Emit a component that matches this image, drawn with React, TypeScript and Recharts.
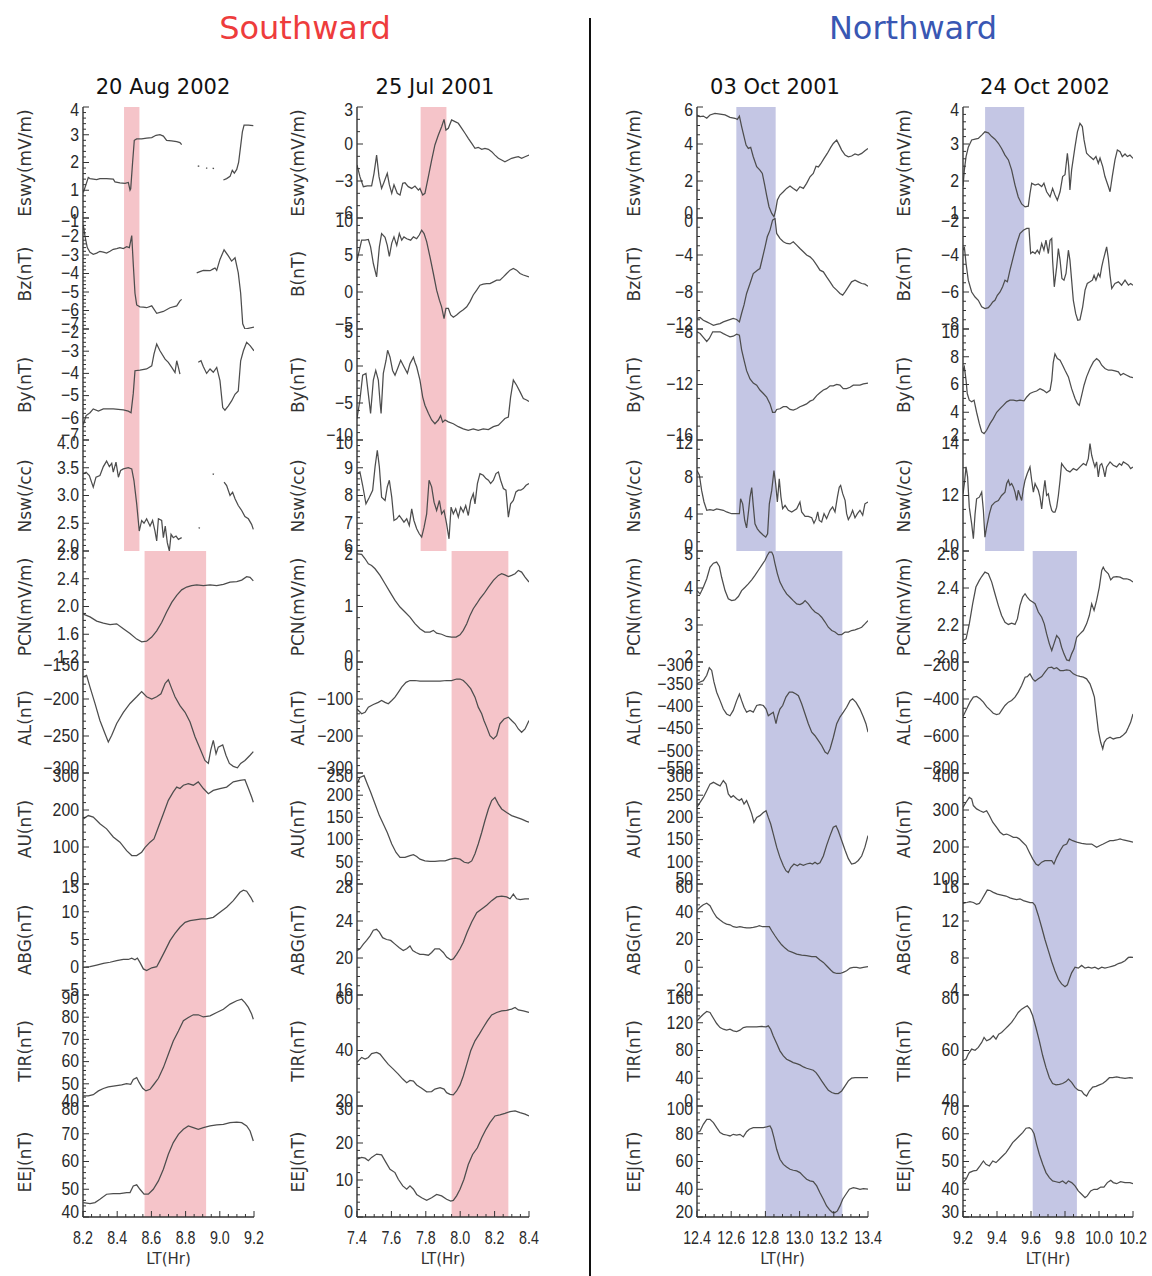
import React from "react";
import { LineChart, Line, XAxis, YAxis, ReferenceArea } from "recharts";

type Pt = [number, number | null];

// ---- 20 Aug 2002 ----
const aug02Esw: Pt[] = [
  [8.202, 0.92], [8.231, 1.46], [8.241, 1.42], [8.28, 1.38], [8.299, 1.42], [8.338, 1.42], [8.377, 1.4], [8.387, 1.3],
  [8.416, 1.27], [8.446, 1.25], [8.465, 1.28], [8.475, 1.0], [8.479, 1.05], [8.49, 2.0], [8.5, 2.8], [8.514, 2.85],
  [8.543, 2.85], [8.572, 2.88], [8.602, 2.9], [8.627, 2.98], [8.65, 3.0], [8.67, 2.95], [8.689, 2.8], [8.718, 2.78],
  [8.748, 2.75], [8.767, 2.72], [8.777, 2.64], [8.82, null], [8.871, 1.88], [8.88, 1.86], [8.9, null], [8.919, 1.8],
  [8.927, 1.8], [8.94, null], [8.958, 1.8], [8.966, 1.78], [8.99, null], [9.021, 1.37], [9.04, 1.42], [9.06, 1.5],
  [9.073, 1.72], [9.085, 1.62], [9.099, 1.75], [9.11, 2.0], [9.122, 2.6], [9.132, 3.1], [9.142, 3.35], [9.167, 3.35],
  [9.196, 3.33],
];
const aug02Bz: Pt[] = [
  [8.202, -1.4], [8.212, -2.0], [8.225, -2.6], [8.241, -2.85], [8.26, -2.96], [8.28, -2.9], [8.299, -2.8], [8.319, -2.85],
  [8.338, -2.9], [8.358, -2.8], [8.377, -2.69], [8.397, -2.65], [8.416, -2.6], [8.436, -2.65], [8.455, -2.55], [8.471, -2.6],
  [8.485, -1.95], [8.494, -3.5], [8.504, -5.07], [8.514, -5.7], [8.533, -5.8], [8.553, -5.82], [8.572, -5.85], [8.602, -5.75],
  [8.631, -6.15], [8.67, -6.05], [8.709, -5.85], [8.748, -5.75], [8.767, -5.48], [8.777, -5.4], [8.82, null], [8.865, -3.97],
  [8.884, -3.9], [8.904, -3.83], [8.943, -3.85], [8.962, -3.75], [8.972, -3.7], [8.982, -3.83], [9.001, -3.24], [9.025, -2.72],
  [9.05, -3.05], [9.069, -3.33], [9.089, -3.15], [9.108, -3.97], [9.122, -5.07], [9.134, -6.72], [9.147, -7.0], [9.2, -6.9],
];
const aug02By: Pt[] = [
  [8.202, -6.3], [8.218, -5.9], [8.241, -5.77], [8.26, -5.6], [8.29, -5.7], [8.319, -5.6], [8.377, -5.6], [8.436, -5.64],
  [8.465, -5.7], [8.481, -5.77], [8.494, -4.9], [8.504, -3.88], [8.533, -3.85], [8.572, -3.8], [8.602, -3.66], [8.615, -3.13],
  [8.631, -2.68], [8.65, -2.98], [8.68, -3.36], [8.699, -3.5], [8.719, -3.73], [8.738, -3.96], [8.748, -3.43], [8.758, -3.73],
  [8.767, -4.03], [8.82, null], [8.874, -3.5], [8.89, -3.43], [8.904, -3.7], [8.923, -4.0], [8.943, -3.8], [8.962, -3.95],
  [8.982, -3.73], [9.001, -4.33], [9.017, -5.54], [9.03, -5.66], [9.05, -5.46], [9.069, -5.24], [9.089, -4.94], [9.108, -4.79],
  [9.122, -3.43], [9.138, -2.98], [9.157, -2.6], [9.177, -2.75], [9.2, -2.98],
];
const aug02Nsw: Pt[] = [
  [8.202, 3.39], [8.218, 3.42], [8.237, 3.36], [8.26, 3.15], [8.276, 3.33], [8.299, 3.36], [8.319, 3.52], [8.338, 3.62],
  [8.354, 3.52], [8.368, 3.58], [8.377, 3.42], [8.393, 3.6], [8.407, 3.33], [8.42, 3.45], [8.436, 3.48], [8.465, 3.5],
  [8.485, 3.48], [8.498, 3.27], [8.514, 2.85], [8.529, 2.36], [8.543, 2.55], [8.557, 2.5], [8.572, 2.58], [8.592, 2.45],
  [8.607, 2.55], [8.621, 2.36], [8.631, 2.18], [8.641, 2.58], [8.66, 2.55], [8.67, 2.24], [8.681, 2.45], [8.693, 2.15],
  [8.705, 2.0], [8.715, 2.3], [8.728, 2.24], [8.744, 2.27], [8.758, 2.21], [8.777, 2.24], [8.82, null], [8.876, 2.42],
  [8.884, 2.41], [8.92, null], [8.958, 3.39], [8.966, 3.38], [8.99, null], [9.025, 3.24], [9.04, 3.18], [9.06, 3.0],
  [9.075, 3.06], [9.089, 2.94], [9.108, 2.82], [9.128, 2.73], [9.147, 2.62], [9.167, 2.58], [9.186, 2.48], [9.196, 2.39],
];
const aug02Pcn: Pt[] = [
  [8.202, 1.89], [8.241, 1.85], [8.28, 1.79], [8.319, 1.76], [8.358, 1.74], [8.397, 1.75], [8.436, 1.68], [8.475, 1.61],
  [8.514, 1.53], [8.543, 1.49], [8.572, 1.5], [8.602, 1.56], [8.631, 1.65], [8.66, 1.77], [8.689, 1.92], [8.719, 2.06],
  [8.748, 2.16], [8.777, 2.24], [8.806, 2.28], [8.835, 2.3], [8.865, 2.31], [8.904, 2.3], [8.943, 2.31], [8.982, 2.3],
  [9.021, 2.32], [9.06, 2.35], [9.099, 2.36], [9.128, 2.38], [9.157, 2.43], [9.177, 2.42], [9.196, 2.37],
];
const aug02Al: Pt[] = [
  [8.202, -170], [8.221, -168], [8.241, -184], [8.27, -206], [8.299, -229], [8.329, -247], [8.348, -258], [8.368, -249],
  [8.397, -233], [8.436, -218], [8.475, -206], [8.514, -197], [8.543, -190], [8.572, -197], [8.602, -200], [8.631, -197],
  [8.656, -193], [8.68, -179], [8.699, -174], [8.719, -186], [8.738, -197], [8.767, -209], [8.797, -218], [8.826, -231],
  [8.855, -251], [8.884, -267], [8.913, -283], [8.933, -287], [8.947, -269], [8.962, -256], [8.978, -274], [8.991, -265],
  [9.017, -262], [9.036, -276], [9.056, -287], [9.079, -291], [9.103, -293], [9.122, -287], [9.147, -283], [9.177, -276],
  [9.196, -271],
];
const aug02Au: Pt[] = [
  [8.202, 176], [8.231, 185], [8.26, 181], [8.299, 163], [8.338, 149], [8.377, 127], [8.416, 113], [8.455, 90],
  [8.485, 77], [8.514, 77], [8.543, 86], [8.563, 99], [8.592, 113], [8.615, 122], [8.641, 154], [8.67, 190],
  [8.699, 226], [8.728, 249], [8.748, 262], [8.767, 258], [8.787, 267], [8.816, 271], [8.845, 267], [8.874, 276],
  [8.904, 258], [8.933, 244], [8.962, 253], [9.001, 258], [9.04, 262], [9.079, 276], [9.118, 280], [9.147, 282],
  [9.167, 258], [9.186, 235], [9.196, 221],
];
const aug02Abg: Pt[] = [
  [8.202, 0.0], [8.241, 0.1], [8.28, 0.4], [8.319, 0.7], [8.358, 0.9], [8.397, 1.2], [8.436, 1.4], [8.465, 1.4],
  [8.485, 1.65], [8.504, 1.35], [8.518, 1.65], [8.533, 0.87], [8.553, -0.3], [8.572, -0.6], [8.602, -0.1], [8.631, 0.1],
  [8.65, 1.2], [8.68, 3.0], [8.709, 4.8], [8.738, 6.1], [8.767, 7.2], [8.797, 8.1], [8.826, 8.4], [8.865, 8.6],
  [8.894, 8.7], [8.923, 8.7], [8.962, 9.0], [9.001, 9.9], [9.04, 10.8], [9.079, 12.0], [9.118, 13.5], [9.138, 13.9],
  [9.157, 13.7], [9.181, 12.6], [9.196, 11.7],
];
const aug02Tir: Pt[] = [
  [8.202, 44.6], [8.231, 44.6], [8.26, 45.1], [8.29, 46.8], [8.319, 47.9], [8.348, 48.6], [8.387, 49.1], [8.426, 49.5],
  [8.455, 50.1], [8.479, 49.8], [8.494, 52.0], [8.514, 52.8], [8.529, 50.5], [8.549, 48.0], [8.568, 46.8], [8.592, 47.5],
  [8.615, 49.8], [8.641, 52.5], [8.67, 57.3], [8.699, 63.3], [8.728, 69.3], [8.758, 73.8], [8.787, 78.4], [8.816, 79.9],
  [8.845, 81.1], [8.874, 81.1], [8.904, 80.1], [8.943, 80.6], [8.982, 82.1], [9.021, 83.6], [9.06, 85.9], [9.099, 87.4],
  [9.128, 88.1], [9.147, 86.6], [9.167, 84.4], [9.186, 81.4], [9.196, 79.1],
];
const aug02Eej: Pt[] = [
  [8.202, 45.2], [8.241, 44.8], [8.27, 45.2], [8.299, 46.4], [8.338, 48.2], [8.377, 48.4], [8.416, 48.4], [8.455, 48.8],
  [8.475, 48.8], [8.494, 51.2], [8.514, 51.6], [8.533, 50.0], [8.557, 48.2], [8.582, 48.2], [8.611, 50.0], [8.641, 53.0],
  [8.67, 57.2], [8.699, 62.6], [8.728, 66.8], [8.758, 69.8], [8.787, 71.6], [8.816, 72.8], [8.845, 72.2], [8.874, 71.6],
  [8.904, 72.2], [8.943, 72.8], [8.982, 73.2], [9.021, 73.4], [9.06, 74.0], [9.099, 74.2], [9.128, 74.0], [9.157, 72.8],
  [9.177, 71.0], [9.196, 67.4],
];

// ---- 25 Jul 2001 ----
const jul01Esw: Pt[] = [
  [7.4, -1.7], [7.417, -2.65], [7.437, -3.46], [7.46, -3.4], [7.485, -3.4], [7.499, -2.38], [7.514, -0.9], [7.528, -2.65],
  [7.543, -3.6], [7.557, -3.1], [7.576, -2.38], [7.588, -3.3], [7.602, -4.0], [7.615, -3.3], [7.634, -4.0], [7.65, -4.14],
  [7.666, -3.19], [7.679, -3.14], [7.698, -3.46], [7.718, -3.6], [7.737, -3.41], [7.757, -3.74], [7.766, -3.6], [7.782, -4.14],
  [7.795, -4.0], [7.815, -2.65], [7.834, -1.3], [7.853, -0.08], [7.873, 0.73], [7.892, 1.4], [7.906, 2.0], [7.917, 1.13],
  [7.931, 1.27], [7.95, 1.95], [7.97, 1.81], [7.989, 1.68], [8.009, 1.27], [8.028, 0.87], [8.047, 0.46], [8.067, 0.05],
  [8.086, -0.35], [8.105, -0.27], [8.125, -0.43], [8.144, -0.35], [8.164, -0.43], [8.183, -0.62], [8.202, -0.9], [8.222, -1.16],
  [8.241, -1.3], [8.26, -1.44], [8.28, -1.3], [8.299, -1.16], [8.319, -1.08], [8.338, -1.03], [8.357, -1.16], [8.377, -1.03],
  [8.4, -0.9],
];
const jul01B: Pt[] = [
  [7.4, 4.3], [7.414, 5.66], [7.427, 7.0], [7.447, 7.0], [7.466, 7.1], [7.479, 6.1], [7.495, 3.85], [7.514, 2.05],
  [7.53, 6.1], [7.543, 7.9], [7.563, 7.4], [7.576, 6.3], [7.588, 4.8], [7.602, 6.6], [7.615, 7.45], [7.631, 6.3],
  [7.646, 7.9], [7.66, 7.0], [7.673, 7.45], [7.689, 7.2], [7.712, 7.0], [7.728, 7.45], [7.747, 7.2], [7.762, 7.7],
  [7.776, 8.35], [7.79, 7.9], [7.805, 6.8], [7.824, 4.77], [7.844, 2.5], [7.863, 0.25], [7.879, -1.1], [7.892, -2.0],
  [7.906, -3.6], [7.917, -2.2], [7.931, -2.2], [7.945, -3.1], [7.96, -3.4], [7.979, -3.1], [7.999, -2.7], [8.018, -2.4],
  [8.038, -2.0], [8.057, -1.3], [8.076, -0.4], [8.096, 0.25], [8.115, 0.92], [8.134, 1.05], [8.154, 1.14], [8.173, 1.14],
  [8.193, 1.37], [8.212, 1.6], [8.231, 1.6], [8.251, 2.05], [8.27, 2.5], [8.29, 2.95], [8.309, 3.17], [8.328, 2.95],
  [8.348, 2.5], [8.367, 2.3], [8.4, 2.05],
];
const jul01By: Pt[] = [
  [7.4, -7.1], [7.417, -4.6], [7.433, -1.25], [7.452, -1.0], [7.468, -4.2], [7.479, -6.4], [7.495, -1.9], [7.509, -0.6],
  [7.524, -1.9], [7.534, -4.9], [7.54, -6.4], [7.553, -1.0], [7.569, 0.78], [7.578, 2.13], [7.592, 1.2], [7.607, -0.6],
  [7.621, -1.25], [7.64, -0.1], [7.654, 0.78], [7.673, -0.1], [7.693, -1.0], [7.708, 0.3], [7.728, 1.2], [7.737, 0.5],
  [7.747, -0.1], [7.766, -1.9], [7.782, -4.2], [7.795, -5.3], [7.815, -6.4], [7.834, -7.3], [7.853, -7.8], [7.873, -7.3],
  [7.886, -6.7], [7.898, -7.6], [7.912, -7.3], [7.931, -7.55], [7.96, -7.8], [7.989, -8.2], [8.018, -8.5], [8.047, -8.7],
  [8.076, -8.5], [8.105, -8.7], [8.134, -8.5], [8.164, -8.6], [8.193, -8.2], [8.222, -8.0], [8.241, -7.55], [8.26, -7.1],
  [8.28, -6.9], [8.293, -4.2], [8.309, -1.9], [8.328, -2.6], [8.348, -3.5], [8.367, -4.4], [8.386, -4.6], [8.4, -4.8],
];
const jul01Nsw: Pt[] = [
  [7.4, 8.79], [7.417, 8.85], [7.433, 8.36], [7.452, 7.7], [7.472, 7.94], [7.491, 8.19], [7.505, 9.03], [7.518, 9.63],
  [7.53, 9.03], [7.543, 7.94], [7.563, 7.82], [7.576, 8.31], [7.588, 8.55], [7.602, 7.94], [7.615, 7.1], [7.631, 7.16],
  [7.646, 7.28], [7.66, 7.16], [7.673, 7.04], [7.689, 7.16], [7.704, 6.92], [7.718, 7.52], [7.731, 7.1], [7.747, 6.8],
  [7.762, 6.62], [7.776, 6.5], [7.79, 6.86], [7.805, 7.34], [7.819, 8.55], [7.834, 8.31], [7.848, 7.76], [7.863, 7.46],
  [7.879, 7.82], [7.892, 7.34], [7.906, 7.46], [7.921, 6.98], [7.935, 6.44], [7.947, 7.58], [7.96, 7.34], [7.974, 7.52],
  [7.989, 7.22], [8.003, 7.58], [8.018, 7.4], [8.032, 7.64], [8.047, 7.28], [8.061, 7.82], [8.076, 8.07], [8.086, 7.7],
  [8.1, 8.43], [8.115, 8.79], [8.134, 8.73], [8.15, 8.61], [8.164, 8.55], [8.177, 8.43], [8.193, 8.55], [8.208, 8.79],
  [8.222, 8.85], [8.235, 8.55], [8.251, 8.25], [8.266, 8.19], [8.28, 7.22], [8.293, 7.7], [8.309, 7.82], [8.324, 8.13],
  [8.338, 8.19], [8.352, 8.19], [8.367, 8.25], [8.383, 8.37], [8.4, 8.43],
];
const jul01Pcn: Pt[] = [
  [7.4, 1.95], [7.427, 1.94], [7.447, 1.86], [7.466, 1.77], [7.485, 1.74], [7.505, 1.68], [7.534, 1.56], [7.563, 1.41],
  [7.592, 1.26], [7.621, 1.11], [7.65, 0.99], [7.679, 0.9], [7.708, 0.81], [7.737, 0.69], [7.766, 0.6], [7.795, 0.54],
  [7.824, 0.54], [7.844, 0.57], [7.863, 0.52], [7.892, 0.5], [7.921, 0.46], [7.95, 0.45], [7.976, 0.45], [7.999, 0.49],
  [8.018, 0.57], [8.038, 0.69], [8.057, 0.84], [8.076, 0.96], [8.096, 1.05], [8.115, 1.14], [8.138, 1.23], [8.164, 1.35],
  [8.193, 1.47], [8.222, 1.56], [8.241, 1.59], [8.26, 1.57], [8.28, 1.54], [8.299, 1.56], [8.319, 1.59], [8.338, 1.65],
  [8.357, 1.62], [8.377, 1.53], [8.4, 1.44],
];
const jul01Al: Pt[] = [
  [7.4, -127], [7.427, -140], [7.447, -136], [7.466, -122], [7.495, -115], [7.524, -109], [7.543, -104], [7.563, -109],
  [7.582, -113], [7.602, -104], [7.621, -95], [7.64, -82], [7.66, -68], [7.685, -55], [7.708, -50], [7.737, -50],
  [7.766, -52], [7.805, -52], [7.844, -52], [7.883, -52], [7.921, -50], [7.95, -50], [7.979, -46], [7.999, -46],
  [8.018, -50], [8.038, -59], [8.061, -72], [8.086, -95], [8.105, -122], [8.125, -140], [8.138, -158], [8.154, -176],
  [8.173, -199], [8.193, -208], [8.212, -199], [8.231, -167], [8.255, -154], [8.28, -149], [8.299, -158], [8.319, -167],
  [8.338, -181], [8.357, -190], [8.377, -181], [8.4, -158],
];
const jul01Au: Pt[] = [
  [7.4, 225], [7.417, 240], [7.441, 244], [7.46, 225], [7.479, 207], [7.505, 180], [7.53, 154], [7.553, 135],
  [7.576, 116], [7.602, 90], [7.627, 71], [7.65, 60], [7.679, 60], [7.708, 64], [7.728, 66], [7.747, 62],
  [7.766, 56], [7.795, 52], [7.824, 51], [7.853, 51], [7.883, 52], [7.912, 52], [7.941, 56], [7.97, 58],
  [7.999, 56], [8.024, 49], [8.047, 47], [8.067, 52], [8.086, 68], [8.105, 90], [8.125, 116], [8.144, 143],
  [8.164, 169], [8.183, 188], [8.202, 195], [8.222, 180], [8.241, 169], [8.27, 161], [8.299, 154], [8.328, 150],
  [8.357, 146], [8.386, 141], [8.4, 139],
];
const jul01Abg: Pt[] = [
  [7.4, 20.8], [7.417, 21.0], [7.437, 21.5], [7.456, 21.9], [7.476, 22.4], [7.495, 23.0], [7.514, 23.1], [7.53, 22.8],
  [7.549, 22.2], [7.572, 22.0], [7.596, 21.9], [7.621, 21.5], [7.646, 21.1], [7.669, 20.8], [7.689, 21.0], [7.708, 21.3],
  [7.724, 20.8], [7.743, 20.6], [7.766, 20.4], [7.786, 20.4], [7.815, 20.3], [7.834, 20.6], [7.853, 21.0], [7.879, 21.0],
  [7.902, 20.6], [7.921, 20.1], [7.945, 19.8], [7.96, 19.9], [7.979, 20.4], [7.999, 21.0], [8.018, 21.7], [8.041, 22.8],
  [8.067, 23.9], [8.096, 24.9], [8.125, 25.3], [8.154, 25.7], [8.183, 26.2], [8.212, 26.6], [8.241, 26.7], [8.27, 26.6],
  [8.29, 26.4], [8.309, 26.9], [8.328, 26.4], [8.348, 26.3], [8.377, 26.4], [8.4, 26.4],
];
const jul01Tir: Pt[] = [
  [7.4, 35.7], [7.427, 37.5], [7.447, 36.9], [7.466, 37.5], [7.485, 38.9], [7.514, 39.3], [7.534, 38.7], [7.557, 36.9],
  [7.582, 35.0], [7.611, 33.3], [7.64, 31.5], [7.666, 29.7], [7.689, 28.4], [7.708, 29.2], [7.728, 29.0], [7.747, 27.6],
  [7.776, 26.4], [7.805, 25.1], [7.834, 25.2], [7.853, 26.1], [7.883, 26.6], [7.906, 26.1], [7.921, 24.8], [7.941, 24.2],
  [7.96, 24.0], [7.979, 25.4], [7.999, 27.6], [8.018, 30.8], [8.038, 35.0], [8.061, 39.9], [8.086, 43.5], [8.111, 45.9],
  [8.134, 48.3], [8.158, 50.7], [8.183, 52.8], [8.212, 53.7], [8.241, 54.3], [8.27, 54.5], [8.299, 54.9], [8.319, 55.5],
  [8.338, 54.6], [8.367, 54.3], [8.4, 53.7],
];
const jul01Eej: Pt[] = [
  [7.4, 15.6], [7.427, 16.1], [7.447, 15.9], [7.466, 15.2], [7.485, 16.1], [7.514, 17.0], [7.543, 16.8], [7.569, 14.7],
  [7.592, 12.9], [7.621, 12.0], [7.64, 10.2], [7.666, 8.4], [7.689, 7.5], [7.708, 8.4], [7.728, 7.5], [7.747, 6.1],
  [7.776, 5.2], [7.805, 4.5], [7.834, 5.2], [7.863, 6.1], [7.892, 5.7], [7.921, 4.8], [7.945, 4.3], [7.96, 4.5],
  [7.979, 5.7], [7.999, 7.5], [8.022, 10.2], [8.047, 14.2], [8.072, 16.9], [8.1, 18.7], [8.125, 21.4], [8.15, 23.7],
  [8.173, 25.5], [8.202, 27.3], [8.231, 27.6], [8.26, 28.0], [8.29, 28.5], [8.319, 28.7], [8.348, 28.2], [8.377, 27.8],
  [8.4, 27.3],
];

// ---- 03 Oct 2001 ----
const oct01Esw: Pt[] = [
  [12.4, 5.57], [12.418, 5.48], [12.437, 5.51], [12.457, 5.39], [12.476, 5.57], [12.505, 5.66], [12.535, 5.62], [12.564, 5.57],
  [12.593, 5.44], [12.622, 5.39], [12.636, 5.33], [12.648, 5.51], [12.661, 4.94], [12.675, 4.4], [12.687, 3.94], [12.7, 3.76],
  [12.714, 3.82], [12.729, 3.31], [12.749, 2.77], [12.768, 2.59], [12.782, 2.41], [12.796, 1.78], [12.807, 1.24], [12.821, 0.61],
  [12.837, 0.25], [12.85, 0.07], [12.86, 0.43], [12.87, 0.97], [12.885, 1.24], [12.905, 1.42], [12.924, 1.6], [12.944, 1.73],
  [12.963, 1.6], [12.983, 1.47], [13.002, 1.69], [13.022, 1.6], [13.041, 1.87], [13.061, 2.23], [13.08, 2.41], [13.096, 2.8],
  [13.11, 2.76], [13.123, 2.92], [13.143, 3.22], [13.162, 3.49], [13.182, 3.82], [13.197, 4.03], [13.217, 4.21], [13.232, 3.94],
  [13.246, 3.67], [13.266, 3.4], [13.285, 3.31], [13.304, 3.35], [13.324, 3.46], [13.343, 3.4], [13.363, 3.49], [13.382, 3.64],
  [13.4, 3.76],
];
const oct01Bz: Pt[] = [
  [12.4, -10.86], [12.418, -10.76], [12.437, -11.05], [12.457, -11.23], [12.476, -11.41], [12.496, -11.6], [12.515, -11.5],
  [12.535, -11.41], [12.554, -11.23], [12.583, -11.05], [12.612, -10.86], [12.632, -10.97], [12.648, -11.23], [12.661, -10.3],
  [12.675, -9.4], [12.69, -8.16], [12.71, -7.08], [12.729, -6.0], [12.753, -5.64], [12.768, -5.46], [12.782, -4.38],
  [12.798, -3.11], [12.811, -2.03], [12.827, -1.31], [12.842, -0.23], [12.856, -0.05], [12.866, -1.67], [12.885, -2.21],
  [12.905, -2.57], [12.924, -2.75], [12.944, -2.8], [12.963, -2.57], [12.983, -2.93], [13.002, -3.3], [13.022, -3.65],
  [13.041, -4.0], [13.061, -4.2], [13.08, -4.56], [13.1, -5.1], [13.119, -5.64], [13.139, -5.82], [13.158, -6.37],
  [13.178, -6.9], [13.197, -7.45], [13.217, -7.8], [13.236, -8.16], [13.252, -8.34], [13.266, -7.98], [13.285, -7.45],
  [13.304, -6.9], [13.324, -6.73], [13.343, -6.9], [13.363, -7.08], [13.382, -7.15], [13.4, -7.37],
];
const oct01By: Pt[] = [
  [12.4, -8.2], [12.418, -8.33], [12.437, -8.6], [12.457, -8.9], [12.472, -8.68], [12.492, -8.2], [12.511, -8.2], [12.535, -8.2],
  [12.554, -8.33], [12.573, -8.45], [12.593, -8.57], [12.612, -8.52], [12.632, -8.38], [12.648, -8.45], [12.661, -9.5],
  [12.675, -10.25], [12.69, -11.0], [12.71, -11.6], [12.729, -11.9], [12.749, -12.05], [12.768, -12.4], [12.788, -12.65],
  [12.807, -12.9], [12.827, -13.4], [12.842, -14.0], [12.856, -14.0], [12.866, -13.8], [12.885, -13.75], [12.905, -13.6],
  [12.924, -13.6], [12.944, -13.8], [12.963, -13.85], [12.983, -13.75], [13.002, -13.6], [13.022, -13.5], [13.041, -13.4],
  [13.061, -13.2], [13.08, -13.1], [13.1, -12.8], [13.119, -12.6], [13.139, -12.4], [13.158, -12.3], [13.178, -12.1],
  [13.197, -12.1], [13.217, -12.0], [13.236, -12.05], [13.255, -12.3], [13.275, -12.3], [13.295, -12.2], [13.314, -12.05],
  [13.334, -12.05], [13.353, -12.05], [13.373, -11.95], [13.4, -11.9],
];
const oct01Nsw: Pt[] = [
  [12.4, 8.7], [12.414, 8.2], [12.427, 6.55], [12.441, 5.3], [12.457, 4.4], [12.476, 4.47], [12.496, 4.4], [12.515, 4.54],
  [12.535, 4.47], [12.554, 4.4], [12.573, 4.22], [12.603, 4.03], [12.632, 4.03], [12.648, 4.03], [12.655, 5.65], [12.667, 5.1],
  [12.679, 3.3], [12.69, 2.5], [12.702, 4.4], [12.71, 5.83], [12.72, 6.85], [12.729, 4.93], [12.739, 2.95], [12.753, 2.4],
  [12.768, 2.05], [12.788, 1.7], [12.802, 1.5], [12.813, 1.86], [12.823, 5.1], [12.837, 6.55], [12.85, 8.7], [12.86, 7.26],
  [12.87, 5.3], [12.881, 7.8], [12.891, 5.83], [12.901, 4.57], [12.915, 4.93], [12.934, 4.4], [12.954, 4.22], [12.983, 4.57],
  [13.002, 5.3], [13.012, 4.22], [13.032, 3.74], [13.051, 3.74], [13.071, 3.6], [13.084, 3.0], [13.096, 3.47], [13.106, 4.22],
  [13.115, 3.3], [13.129, 3.14], [13.143, 4.04], [13.158, 3.5], [13.178, 4.4], [13.193, 4.76], [13.207, 4.22], [13.221, 5.83],
  [13.232, 6.9], [13.24, 7.1], [13.252, 6.2], [13.266, 5.47], [13.275, 4.04], [13.285, 3.4], [13.299, 3.87], [13.31, 4.4],
  [13.324, 3.6], [13.338, 4.04], [13.353, 4.4], [13.369, 3.87], [13.382, 5.1], [13.4, 5.3],
];
const oct01Pcn: Pt[] = [
  [12.4, 3.93], [12.418, 3.84], [12.437, 4.02], [12.457, 4.25], [12.476, 4.56], [12.496, 4.67], [12.515, 4.7], [12.531, 4.58],
  [12.544, 4.29], [12.564, 3.93], [12.583, 3.71], [12.603, 3.66], [12.622, 3.68], [12.642, 3.77], [12.661, 3.93], [12.681, 4.02],
  [12.7, 4.11], [12.72, 4.22], [12.739, 4.34], [12.759, 4.48], [12.778, 4.61], [12.798, 4.75], [12.811, 4.88], [12.823, 4.97],
  [12.837, 4.97], [12.846, 4.88], [12.856, 4.66], [12.87, 4.39], [12.885, 4.16], [12.905, 3.98], [12.924, 3.84], [12.944, 3.75],
  [12.963, 3.66], [12.983, 3.57], [13.002, 3.55], [13.018, 3.59], [13.032, 3.66], [13.051, 3.57], [13.071, 3.44], [13.09, 3.35],
  [13.11, 3.3], [13.129, 3.21], [13.149, 3.08], [13.168, 2.94], [13.188, 2.85], [13.207, 2.81], [13.226, 2.74], [13.246, 2.74],
  [13.266, 2.81], [13.285, 2.81], [13.304, 2.85], [13.324, 2.87], [13.343, 2.9], [13.363, 2.94], [13.382, 3.03], [13.4, 3.12],
];
const oct01Al: Pt[] = [
  [12.4, -349], [12.418, -345], [12.437, -342], [12.457, -330], [12.472, -313], [12.486, -319], [12.499, -345], [12.515, -368],
  [12.535, -387], [12.554, -406], [12.573, -417], [12.593, -421], [12.612, -409], [12.632, -387], [12.648, -372], [12.661, -387],
  [12.675, -402], [12.69, -413], [12.71, -409], [12.729, -413], [12.749, -398], [12.768, -396], [12.788, -398], [12.804, -406],
  [12.817, -421], [12.831, -417], [12.846, -413], [12.862, -439], [12.872, -421], [12.885, -406], [12.901, -398], [12.92, -379],
  [12.94, -368], [12.959, -368], [12.979, -372], [12.993, -376], [13.012, -394], [13.032, -417], [13.051, -439], [13.071, -458],
  [13.09, -466], [13.11, -477], [13.129, -488], [13.149, -503], [13.164, -507], [13.178, -496], [13.197, -470], [13.217, -439],
  [13.236, -424], [13.256, -413], [13.275, -402], [13.295, -387], [13.31, -383], [13.33, -391], [13.353, -406], [13.373, -424],
  [13.388, -439], [13.4, -458],
];
const oct01Au: Pt[] = [
  [12.4, 223], [12.418, 234], [12.437, 245], [12.457, 260], [12.476, 275], [12.496, 279], [12.515, 275], [12.535, 271],
  [12.554, 283], [12.57, 275], [12.583, 253], [12.599, 245], [12.612, 249], [12.632, 242], [12.648, 238], [12.661, 242],
  [12.675, 230], [12.69, 238], [12.706, 223], [12.72, 208], [12.733, 189], [12.749, 200], [12.768, 204], [12.788, 211],
  [12.804, 215], [12.817, 200], [12.831, 185], [12.846, 163], [12.866, 133], [12.885, 110], [12.905, 91], [12.92, 80],
  [12.934, 76], [12.948, 87], [12.967, 95], [12.987, 91], [13.002, 95], [13.022, 92], [13.041, 95], [13.061, 97],
  [13.076, 95], [13.09, 99], [13.104, 95], [13.119, 98], [13.139, 113], [13.158, 137], [13.178, 159], [13.197, 178],
  [13.213, 181], [13.226, 170], [13.246, 148], [13.266, 126], [13.285, 107], [13.304, 95], [13.324, 97], [13.343, 103],
  [13.363, 113], [13.382, 133], [13.4, 159],
];
const oct01Abg: Pt[] = [
  [12.4, 40.8], [12.418, 43.2], [12.437, 45.1], [12.457, 46.1], [12.476, 44.4], [12.496, 39.6], [12.515, 36.0], [12.535, 34.0],
  [12.554, 32.3], [12.573, 31.1], [12.593, 30.6], [12.612, 29.2], [12.632, 28.7], [12.651, 29.2], [12.671, 28.7], [12.69, 28.3],
  [12.71, 28.3], [12.729, 28.7], [12.749, 29.2], [12.764, 29.9], [12.784, 29.2], [12.807, 29.2], [12.823, 29.2], [12.837, 26.3],
  [12.856, 22.7], [12.876, 19.1], [12.895, 16.2], [12.915, 13.8], [12.934, 11.9], [12.959, 10.7], [12.983, 9.5], [13.012, 8.8],
  [13.041, 8.3], [13.071, 7.6], [13.096, 7.6], [13.119, 5.2], [13.139, 3.5], [13.158, 1.1], [13.182, -2.0], [13.197, -3.7],
  [13.217, -4.5], [13.236, -4.5], [13.255, -3.7], [13.275, -2.5], [13.295, -0.6], [13.314, -0.1], [13.334, -0.1], [13.353, -0.6],
  [13.373, -0.1], [13.4, 0.4],
];
const oct01Tir: Pt[] = [
  [12.4, 122.8], [12.418, 127.6], [12.437, 132.3], [12.457, 136.2], [12.476, 134.8], [12.496, 126.5], [12.515, 118.9],
  [12.535, 113.1], [12.554, 110.7], [12.573, 109.3], [12.593, 110.7], [12.612, 108.3], [12.632, 107.3], [12.651, 109.3],
  [12.671, 113.1], [12.69, 114.1], [12.72, 114.1], [12.749, 114.1], [12.778, 114.6], [12.804, 114.1], [12.817, 115.5],
  [12.831, 110.7], [12.846, 101.0], [12.866, 90.0], [12.885, 79.5], [12.905, 72.2], [12.924, 67.4], [12.944, 65.0],
  [12.963, 62.6], [12.983, 61.1], [13.002, 59.2], [13.022, 56.3], [13.041, 54.4], [13.061, 53.0], [13.08, 51.5],
  [13.096, 48.2], [13.11, 43.5], [13.129, 36.2], [13.149, 29.0], [13.168, 22.7], [13.188, 19.4], [13.207, 17.9],
  [13.226, 17.9], [13.246, 21.7], [13.266, 29.0], [13.285, 36.2], [13.304, 40.1], [13.324, 41.0], [13.343, 41.0],
  [13.363, 41.0], [13.382, 41.0], [13.4, 41.0],
];
const oct01Eej: Pt[] = [
  [12.4, 80.8], [12.418, 82.0], [12.437, 86.8], [12.457, 90.4], [12.476, 90.4], [12.496, 88.0], [12.515, 84.4], [12.535, 80.8],
  [12.554, 79.6], [12.573, 79.1], [12.593, 78.4], [12.612, 79.6], [12.632, 79.1], [12.651, 79.6], [12.671, 77.7], [12.69, 81.5],
  [12.706, 83.3], [12.729, 84.4], [12.759, 84.4], [12.788, 84.4], [12.807, 84.9], [12.827, 85.6], [12.837, 83.2], [12.85, 77.2],
  [12.866, 68.8], [12.885, 61.6], [12.905, 57.9], [12.924, 56.0], [12.944, 54.4], [12.963, 53.7], [12.983, 53.2], [13.002, 52.0],
  [13.022, 49.5], [13.041, 47.2], [13.061, 46.0], [13.08, 45.5], [13.1, 42.4], [13.119, 37.5], [13.139, 32.8], [13.158, 28.0],
  [13.178, 24.8], [13.193, 23.2], [13.207, 23.2], [13.221, 24.4], [13.236, 28.0], [13.252, 32.8], [13.271, 36.4], [13.291, 40.0],
  [13.314, 41.2], [13.334, 40.7], [13.353, 40.0], [13.373, 40.5], [13.4, 40.0],
];

// ---- 24 Oct 2002 ----
const oct02Esw: Pt[] = [
  [9.2, 1.85], [9.208, 2.3], [9.218, 2.66], [9.231, 2.91], [9.251, 3.11], [9.271, 3.13], [9.29, 3.15], [9.31, 3.24],
  [9.329, 3.33], [9.349, 3.3], [9.369, 3.2], [9.388, 3.13], [9.408, 3.02], [9.427, 2.88], [9.447, 2.7], [9.467, 2.57],
  [9.486, 2.3], [9.506, 1.89], [9.525, 1.57], [9.545, 1.38], [9.565, 1.3], [9.584, 1.32], [9.594, 1.66], [9.604, 1.94],
  [9.624, 1.89], [9.643, 1.92], [9.663, 1.85], [9.676, 1.94], [9.692, 1.71], [9.712, 1.57], [9.727, 1.8], [9.741, 1.62],
  [9.755, 1.48], [9.771, 1.71], [9.786, 2.12], [9.8, 2.17], [9.814, 2.75], [9.822, 2.39], [9.829, 1.76], [9.839, 2.3],
  [9.859, 2.93], [9.873, 3.33], [9.888, 3.56], [9.902, 3.47], [9.912, 3.11], [9.927, 2.75], [9.947, 2.66], [9.967, 2.58],
  [9.982, 2.66], [9.996, 2.48], [10.006, 2.62], [10.022, 2.39], [10.035, 2.12], [10.055, 1.85], [10.065, 1.71], [10.078, 2.12],
  [10.094, 2.57], [10.108, 2.84], [10.124, 2.79], [10.137, 2.66], [10.153, 2.73], [10.167, 2.66], [10.182, 2.7], [10.2, 2.61],
];
const oct02Bz: Pt[] = [
  [9.2, -3.74], [9.208, -3.56], [9.218, -4.46], [9.231, -5.36], [9.251, -6.0], [9.271, -6.27], [9.29, -6.45], [9.31, -6.8],
  [9.329, -6.9], [9.349, -6.85], [9.363, -6.7], [9.375, -6.54], [9.388, -6.45], [9.402, -6.18], [9.418, -6.0], [9.433, -5.72],
  [9.447, -5.36], [9.461, -5.45], [9.476, -4.83], [9.496, -4.1], [9.516, -3.38], [9.535, -2.84], [9.555, -2.66], [9.575, -2.56],
  [9.588, -2.56], [9.598, -3.92], [9.61, -3.83], [9.624, -3.92], [9.637, -3.74], [9.649, -3.92], [9.663, -3.38], [9.676, -3.74],
  [9.688, -3.2], [9.702, -3.92], [9.712, -3.2], [9.722, -3.11], [9.727, -4.28], [9.737, -5.72], [9.751, -4.64], [9.761, -3.65],
  [9.771, -4.28], [9.782, -5.27], [9.794, -5.36], [9.806, -5.0], [9.82, -3.74], [9.829, -4.28], [9.839, -5.36], [9.849, -6.45],
  [9.863, -7.17], [9.875, -7.53], [9.888, -7.5], [9.904, -6.8], [9.918, -5.9], [9.931, -5.54], [9.947, -5.45], [9.961, -5.36],
  [9.971, -5.1], [9.982, -5.36], [9.996, -5.0], [10.006, -5.18], [10.016, -4.64], [10.025, -4.28], [10.035, -3.92],
  [10.045, -3.56], [10.055, -4.19], [10.065, -5.1], [10.075, -5.81], [10.094, -5.54], [10.114, -5.45], [10.133, -5.63],
  [10.153, -5.36], [10.173, -5.63], [10.186, -5.54], [10.2, -5.63],
];
const oct02By: Pt[] = [
  [9.2, 7.03], [9.208, 7.27], [9.218, 6.3], [9.225, 5.35], [9.237, 4.87], [9.251, 4.75], [9.265, 4.87], [9.28, 4.0],
  [9.296, 3.18], [9.31, 2.58], [9.324, 2.46], [9.339, 2.7], [9.359, 3.18], [9.378, 3.54], [9.398, 4.0], [9.418, 4.26],
  [9.437, 4.5], [9.457, 4.75], [9.476, 4.87], [9.496, 4.87], [9.516, 4.82], [9.535, 4.87], [9.559, 4.82], [9.575, 5.1],
  [9.594, 5.35], [9.614, 5.46], [9.633, 5.53], [9.653, 5.7], [9.673, 5.58], [9.692, 5.4], [9.712, 5.58], [9.722, 6.3],
  [9.731, 7.6], [9.741, 8.2], [9.755, 7.87], [9.771, 7.75], [9.786, 7.39], [9.8, 7.03], [9.82, 6.55], [9.839, 5.7],
  [9.859, 4.99], [9.873, 4.63], [9.884, 4.5], [9.898, 5.22], [9.912, 5.95], [9.927, 6.55], [9.947, 7.15], [9.967, 7.63],
  [9.986, 7.87], [10.002, 7.7], [10.016, 7.39], [10.035, 7.15], [10.055, 7.03], [10.075, 7.03], [10.094, 6.98], [10.114, 6.91],
  [10.127, 6.67], [10.143, 6.79], [10.163, 6.67], [10.182, 6.55], [10.2, 6.5],
];
const oct02Nsw: Pt[] = [
  [9.2, 12.06], [9.208, 12.43], [9.218, 13.03], [9.227, 12.67], [9.237, 11.58], [9.251, 10.98], [9.261, 10.44], [9.271, 11.34],
  [9.28, 11.88], [9.296, 11.94], [9.31, 12.12], [9.32, 11.46], [9.329, 10.5], [9.339, 10.86], [9.355, 11.34], [9.369, 11.64],
  [9.388, 11.76], [9.408, 11.82], [9.427, 12.0], [9.447, 12.12], [9.457, 12.43], [9.467, 12.55], [9.476, 12.37], [9.486, 12.43],
  [9.496, 12.31], [9.506, 12.12], [9.516, 11.82], [9.525, 12.19], [9.535, 12.0], [9.545, 11.82], [9.555, 12.25], [9.565, 12.55],
  [9.578, 12.79], [9.594, 13.03], [9.604, 12.55], [9.614, 12.12], [9.624, 12.43], [9.633, 12.31], [9.643, 12.19], [9.653, 11.94],
  [9.663, 11.52], [9.673, 12.12], [9.682, 12.55], [9.692, 12.0], [9.702, 12.06], [9.712, 11.7], [9.722, 11.46], [9.731, 11.4],
  [9.741, 11.4], [9.751, 11.58], [9.761, 12.0], [9.771, 12.55], [9.78, 13.15], [9.794, 13.03], [9.81, 12.91], [9.829, 12.85],
  [9.849, 12.97], [9.869, 12.91], [9.888, 13.03], [9.908, 13.15], [9.924, 13.09], [9.937, 13.33], [9.947, 13.87], [9.957, 13.45],
  [9.967, 13.21], [9.976, 13.03], [9.986, 13.21], [9.996, 12.67], [10.006, 13.09], [10.016, 13.15], [10.025, 12.97],
  [10.035, 12.67], [10.045, 13.03], [10.065, 13.21], [10.084, 13.09], [10.104, 13.03], [10.12, 13.15], [10.133, 13.09],
  [10.143, 13.21], [10.159, 13.15], [10.173, 13.09], [10.186, 12.97], [10.2, 13.03],
];
const oct02Pcn: Pt[] = [
  [9.2, 2.116], [9.218, 2.125], [9.237, 2.206], [9.257, 2.315], [9.276, 2.405], [9.296, 2.441], [9.31, 2.462], [9.329, 2.486],
  [9.349, 2.477], [9.369, 2.432], [9.388, 2.369], [9.408, 2.305], [9.427, 2.251], [9.447, 2.215], [9.467, 2.203], [9.486, 2.21],
  [9.506, 2.203], [9.52, 2.233], [9.535, 2.305], [9.551, 2.351], [9.565, 2.369], [9.578, 2.351], [9.594, 2.333], [9.61, 2.324],
  [9.624, 2.315], [9.643, 2.27], [9.663, 2.242], [9.678, 2.206], [9.692, 2.152], [9.708, 2.098], [9.722, 2.062], [9.735, 2.098],
  [9.751, 2.143], [9.767, 2.125], [9.78, 2.08], [9.794, 2.044], [9.81, 2.011], [9.825, 2.007], [9.839, 2.044], [9.853, 2.071],
  [9.869, 2.134], [9.888, 2.152], [9.908, 2.17], [9.927, 2.206], [9.943, 2.251], [9.957, 2.315], [9.971, 2.279], [9.986, 2.333],
  [10.002, 2.405], [10.016, 2.495], [10.025, 2.513], [10.035, 2.495], [10.055, 2.477], [10.069, 2.444], [10.084, 2.459],
  [10.104, 2.462], [10.124, 2.459], [10.143, 2.45], [10.163, 2.45], [10.182, 2.444], [10.2, 2.432],
];
const oct02Al: Pt[] = [
  [9.2, -495], [9.222, -453], [9.241, -417], [9.261, -390], [9.28, -386], [9.3, -399], [9.32, -417], [9.339, -441],
  [9.359, -459], [9.378, -477], [9.398, -484], [9.414, -480], [9.427, -462], [9.447, -435], [9.467, -417], [9.486, -408],
  [9.506, -390], [9.525, -363], [9.545, -327], [9.565, -282], [9.578, -279], [9.594, -264], [9.61, -291], [9.624, -304],
  [9.643, -291], [9.663, -279], [9.682, -255], [9.702, -231], [9.722, -228], [9.735, -237], [9.751, -231], [9.771, -246],
  [9.79, -246], [9.81, -242], [9.829, -246], [9.849, -264], [9.869, -273], [9.888, -278], [9.908, -282], [9.927, -291],
  [9.947, -318], [9.961, -354], [9.973, -390], [9.982, -462], [9.996, -571], [10.01, -634], [10.022, -670], [10.031, -634],
  [10.045, -616], [10.065, -607], [10.084, -616], [10.104, -610], [10.124, -607], [10.139, -598], [10.159, -580], [10.173, -553],
  [10.186, -526], [10.2, -481],
];
const oct02Au: Pt[] = [
  [9.2, 307], [9.218, 321], [9.237, 334], [9.251, 330], [9.261, 312], [9.28, 303], [9.3, 298], [9.32, 294],
  [9.339, 298], [9.355, 285], [9.375, 267], [9.398, 253], [9.418, 240], [9.437, 233], [9.457, 235], [9.476, 231],
  [9.496, 226], [9.516, 226], [9.531, 222], [9.551, 213], [9.571, 204], [9.59, 186], [9.61, 168], [9.629, 154],
  [9.643, 150], [9.663, 159], [9.682, 163], [9.702, 163], [9.722, 163], [9.735, 154], [9.751, 172], [9.771, 190],
  [9.79, 204], [9.81, 208], [9.825, 222], [9.845, 217], [9.869, 213], [9.898, 210], [9.927, 208], [9.957, 208],
  [9.986, 199], [10.006, 204], [10.025, 208], [10.045, 213], [10.065, 217], [10.084, 217], [10.104, 219], [10.124, 222],
  [10.143, 219], [10.163, 217], [10.182, 215], [10.2, 213],
];
const oct02Abg: Pt[] = [
  [9.2, 13.9], [9.222, 14.0], [9.241, 14.1], [9.261, 14.0], [9.28, 13.8], [9.296, 13.9], [9.31, 14.3], [9.329, 14.9],
  [9.343, 15.35], [9.359, 15.3], [9.378, 15.1], [9.402, 14.9], [9.427, 14.8], [9.453, 14.7], [9.476, 14.5], [9.496, 14.4],
  [9.516, 14.3], [9.535, 14.4], [9.555, 14.2], [9.575, 14.1], [9.594, 14.0], [9.61, 14.0], [9.624, 13.7], [9.643, 12.6],
  [9.663, 11.3], [9.682, 10.0], [9.702, 8.8], [9.722, 7.6], [9.741, 6.6], [9.761, 5.7], [9.78, 5.2], [9.8, 4.9],
  [9.814, 5.1], [9.825, 5.7], [9.839, 6.4], [9.859, 7.0], [9.878, 6.9], [9.898, 7.2], [9.918, 6.9], [9.937, 7.0],
  [9.957, 6.9], [9.976, 7.0], [9.996, 6.8], [10.016, 7.0], [10.035, 6.9], [10.055, 7.0], [10.075, 7.1], [10.094, 7.2],
  [10.114, 7.4], [10.133, 7.5], [10.153, 7.7], [10.173, 8.06], [10.186, 8.1], [10.2, 8.06],
];
const oct02Tir: Pt[] = [
  [9.2, 56.3], [9.218, 56.9], [9.231, 58.7], [9.251, 60.5], [9.271, 60.1], [9.29, 61.1], [9.31, 62.9], [9.324, 64.7],
  [9.339, 63.5], [9.359, 64.1], [9.378, 65.3], [9.394, 64.1], [9.41, 65.9], [9.427, 66.5], [9.447, 67.7], [9.467, 68.9],
  [9.486, 70.1], [9.506, 71.9], [9.525, 73.7], [9.545, 74.9], [9.565, 75.7], [9.578, 76.1], [9.594, 74.9], [9.61, 72.5],
  [9.629, 68.3], [9.649, 63.5], [9.669, 58.1], [9.688, 53.9], [9.708, 50.2], [9.727, 48.1], [9.747, 47.6], [9.767, 47.8],
  [9.786, 48.1], [9.806, 48.8], [9.82, 49.7], [9.839, 48.5], [9.859, 46.7], [9.878, 45.7], [9.898, 45.4], [9.912, 44.2],
  [9.927, 43.6], [9.943, 45.4], [9.963, 46.8], [9.982, 47.1], [10.002, 47.6], [10.022, 48.1], [10.041, 49.0], [10.061, 50.2],
  [10.08, 50.2], [10.104, 50.5], [10.124, 50.2], [10.153, 50.0], [10.182, 50.2], [10.2, 50.0],
];
const oct02Eej: Pt[] = [
  [9.2, 42.4], [9.218, 43.6], [9.237, 46.0], [9.261, 46.6], [9.28, 46.8], [9.3, 48.4], [9.32, 50.2], [9.335, 49.0],
  [9.355, 48.4], [9.375, 50.2], [9.394, 49.6], [9.414, 50.8], [9.433, 52.0], [9.453, 53.2], [9.473, 55.0], [9.492, 56.8],
  [9.512, 58.0], [9.531, 59.2], [9.551, 60.4], [9.571, 62.0], [9.59, 62.2], [9.604, 61.6], [9.618, 60.0], [9.633, 56.2],
  [9.649, 52.6], [9.669, 49.0], [9.688, 46.0], [9.708, 44.2], [9.727, 43.0], [9.747, 42.7], [9.767, 42.4], [9.786, 43.0],
  [9.806, 42.0], [9.82, 43.0], [9.839, 42.4], [9.859, 41.2], [9.878, 39.4], [9.898, 38.2], [9.918, 37.0], [9.931, 37.6],
  [9.951, 39.4], [9.971, 40.0], [9.99, 40.0], [10.01, 40.8], [10.029, 40.8], [10.049, 42.4], [10.069, 43.2], [10.084, 42.4],
  [10.104, 42.0], [10.127, 42.7], [10.153, 42.4], [10.182, 42.4], [10.2, 42.0],
];

// ---- styling / layout ----
const FRAME = "#333";
const TRACE = "#4d4d4d";
const PINK = "#f5c4c9";
const LAVENDER = "#c4c6e4";

const PLOT_TOP = 107;
const PANEL_H = 111;
const AXIS_W = 70;
const PAD = 12;
const PAD_R = 18;
const XLABEL_H = 44;

type PanelDef = { label: string; data: Pt[]; domain: [number, number]; step: number; dec?: number };
type ColumnDef = {
  date: string;
  left: number;
  width: number;
  t0: number;
  swBand: [number, number];
  ionoBand: [number, number];
  band: string;
  labelX: number;
  titleX: number;
  panels: PanelDef[];
};

const columns: ColumnDef[] = [
  {
    date: "20 Aug 2002", left: 83, width: 171, t0: 8.2, swBand: [8.44, 8.53], ionoBand: [8.56, 8.92],
    band: PINK, labelX: 25, titleX: 163,
    panels: [
      { label: "Eswy(mV/m)", data: aug02Esw, domain: [0, 4], step: 1 },
      { label: "Bz(nT)", data: aug02Bz, domain: [-7, -1], step: 1 },
      { label: "By(nT)", data: aug02By, domain: [-7, -2], step: 1 },
      { label: "Nsw(/cc)", data: aug02Nsw, domain: [2, 4], step: 0.5, dec: 1 },
      { label: "PCN(mV/m)", data: aug02Pcn, domain: [1.2, 2.8], step: 0.4, dec: 1 },
      { label: "AL(nT)", data: aug02Al, domain: [-300, -150], step: 50 },
      { label: "AU(nT)", data: aug02Au, domain: [0, 300], step: 100 },
      { label: "ABG(nT)", data: aug02Abg, domain: [-5, 15], step: 5 },
      { label: "TIR(nT)", data: aug02Tir, domain: [40, 90], step: 10 },
      { label: "EEJ(nT)", data: aug02Eej, domain: [40, 80], step: 10 },
    ],
  },
  {
    date: "25 Jul 2001", left: 357, width: 172, t0: 7.4, swBand: [7.77, 7.92], ionoBand: [7.95, 8.28],
    band: PINK, labelX: 298, titleX: 435,
    panels: [
      { label: "Eswy(mV/m)", data: jul01Esw, domain: [-6, 3], step: 3 },
      { label: "B(nT)", data: jul01B, domain: [-5, 10], step: 5 },
      { label: "By(nT)", data: jul01By, domain: [-10, 5], step: 5 },
      { label: "Nsw(/cc)", data: jul01Nsw, domain: [6, 10], step: 1 },
      { label: "PCN(mV/m)", data: jul01Pcn, domain: [0, 2], step: 1 },
      { label: "AL(nT)", data: jul01Al, domain: [-300, 0], step: 100 },
      { label: "AU(nT)", data: jul01Au, domain: [0, 250], step: 50 },
      { label: "ABG(nT)", data: jul01Abg, domain: [16, 28], step: 4 },
      { label: "TIR(nT)", data: jul01Tir, domain: [20, 60], step: 20 },
      { label: "EEJ(nT)", data: jul01Eej, domain: [0, 30], step: 10 },
    ],
  },
  {
    date: "03 Oct 2001", left: 697, width: 171, t0: 12.4, swBand: [12.63, 12.86], ionoBand: [12.8, 13.25],
    band: LAVENDER, labelX: 634, titleX: 775,
    panels: [
      { label: "Eswy(mV/m)", data: oct01Esw, domain: [0, 6], step: 2 },
      { label: "Bz(nT)", data: oct01Bz, domain: [-12, 0], step: 4 },
      { label: "By(nT)", data: oct01By, domain: [-16, -8], step: 4 },
      { label: "Nsw(/cc)", data: oct01Nsw, domain: [0, 12], step: 4 },
      { label: "PCN(mV/m)", data: oct01Pcn, domain: [2, 5], step: 1 },
      { label: "AL(nT)", data: oct01Al, domain: [-550, -300], step: 50 },
      { label: "AU(nT)", data: oct01Au, domain: [50, 300], step: 50 },
      { label: "ABG(nT)", data: oct01Abg, domain: [-20, 60], step: 20 },
      { label: "TIR(nT)", data: oct01Tir, domain: [0, 160], step: 40 },
      { label: "EEJ(nT)", data: oct01Eej, domain: [20, 100], step: 20 },
    ],
  },
  {
    date: "24 Oct 2002", left: 963, width: 170, t0: 9.2, swBand: [9.33, 9.56], ionoBand: [9.61, 9.87],
    band: LAVENDER, labelX: 904, titleX: 1045,
    panels: [
      { label: "Eswy(mV/m)", data: oct02Esw, domain: [1, 4], step: 1 },
      { label: "Bz(nT)", data: oct02Bz, domain: [-8, -2], step: 2 },
      { label: "By(nT)", data: oct02By, domain: [2, 10], step: 2 },
      { label: "Nsw(/cc)", data: oct02Nsw, domain: [10, 14], step: 2 },
      { label: "PCN(mV/m)", data: oct02Pcn, domain: [2.0, 2.6], step: 0.2, dec: 1 },
      { label: "AL(nT)", data: oct02Al, domain: [-800, -200], step: 200 },
      { label: "AU(nT)", data: oct02Au, domain: [100, 400], step: 100 },
      { label: "ABG(nT)", data: oct02Abg, domain: [4, 16], step: 4 },
      { label: "TIR(nT)", data: oct02Tir, domain: [40, 80], step: 20 },
      { label: "EEJ(nT)", data: oct02Eej, domain: [30, 70], step: 10 },
    ],
  },
];

// IDL-style minor tick subdivision
function minorDiv(step: number) {
  const lead = Math.round(step / Math.pow(10, Math.floor(Math.log10(step) + 1e-9)));
  if (lead === 2 || lead === 4) return 4;
  if (lead === 3) return 3;
  return 5;
}

function tickList(lo: number, hi: number, step: number) {
  const sub = step / minorDiv(step);
  const n = Math.round((hi - lo) / sub);
  const out: number[] = [];
  for (let i = 0; i <= n; i++) out.push(+(lo + i * sub).toFixed(6));
  return out;
}

const onGrid = (v: number, lo: number, step: number) => {
  const k = (v - lo) / step;
  return Math.abs(k - Math.round(k)) < 1e-6;
};

const fmt = (v: number, dec: number) => v.toFixed(dec).replace("-", "\u2212");

const TICK_FONT = "'Liberation Sans', Arial, sans-serif";

function Panel({ col, def, row }: { col: ColumnDef; def: PanelDef; row: number }) {
  const last = row === col.panels.length - 1;
  const [lo, hi] = def.domain;
  const t1 = col.t0 + 1;
  const yTicks = tickList(lo, hi, def.step);
  const xTicks = tickList(col.t0, t1, 0.2);
  const dec = def.dec ?? 0;
  const plotR = AXIS_W + col.width;
  const plotB = PAD + PANEL_H;
  const band = row < 4 ? col.swBand : col.ionoBand;
  const height = PAD + PANEL_H + (last ? XLABEL_H : 0) + PAD;
  const data = def.data.map(([t, v]) => ({ t, v }));

  const leftTick = (p: any) => {
    const v = p.payload.value as number;
    const major = onGrid(v, lo, def.step);
    // end labels are nudged inward a little, as IDL does
    const nudge = Math.abs(v - lo) < 1e-9 ? -5 : Math.abs(v - hi) < 1e-9 ? 3 : 0;
    return (
      <g>
        <line x1={AXIS_W} x2={AXIS_W + (major ? 6 : 3)} y1={p.y} y2={p.y} stroke={FRAME} strokeWidth={1} />
        {major && (
          <text
            transform={`translate(${AXIS_W - 4},${p.y + nudge}) scale(0.88,1)`}
            textAnchor="end"
            dominantBaseline="central"
            fontSize={18}
            fontFamily={TICK_FONT}
            fill="#2a2a2a"
          >
            {fmt(v, dec)}
          </text>
        )}
      </g>
    );
  };

  const rightTick = (p: any) => {
    const v = p.payload.value as number;
    const major = onGrid(v, lo, def.step);
    return <line x1={plotR} x2={plotR - (major ? 6 : 3)} y1={p.y} y2={p.y} stroke={FRAME} strokeWidth={1} />;
  };

  const bottomTick = (p: any) => {
    const v = p.payload.value as number;
    const major = onGrid(v, col.t0, 0.2);
    return (
      <g>
        <line x1={p.x} x2={p.x} y1={plotB} y2={plotB - (major ? 6 : 3)} stroke={FRAME} strokeWidth={1} />
        {last && major && (
          <text
            transform={`translate(${p.x},${plotB + 21}) scale(0.75,1)`}
            textAnchor="middle"
            dominantBaseline="central"
            fontSize={19}
            fontFamily={TICK_FONT}
            fill="#2a2a2a"
          >
            {v.toFixed(1)}
          </text>
        )}
      </g>
    );
  };

  const topTick = (p: any) => {
    const v = p.payload.value as number;
    const major = onGrid(v, col.t0, 0.2);
    return <line x1={p.x} x2={p.x} y1={PAD} y2={PAD + (major ? 6 : 3)} stroke={FRAME} strokeWidth={1} />;
  };

  const axisLine = { stroke: FRAME, strokeWidth: 1.4 };

  return (
    <div style={{ position: "absolute", left: col.left - AXIS_W, top: PLOT_TOP + row * PANEL_H - PAD }}>
      <LineChart
        width={AXIS_W + col.width + PAD_R}
        height={height}
        data={data}
        margin={{ top: PAD, right: PAD_R, bottom: PAD, left: 0 }}
      >
        <ReferenceArea xAxisId="b" yAxisId="l" x1={band[0]} x2={band[1]} fill={col.band} fillOpacity={1} stroke="none" />
        <Line
          xAxisId="b"
          yAxisId="l"
          dataKey="v"
          type="linear"
          stroke={TRACE}
          strokeWidth={1.25}
          dot={false}
          activeDot={false}
          connectNulls={false}
          isAnimationActive={false}
        />
        <XAxis
          xAxisId="b"
          dataKey="t"
          type="number"
          domain={[col.t0, t1]}
          ticks={xTicks}
          interval={0}
          allowDataOverflow
          height={last ? XLABEL_H : 0}
          tickSize={0}
          tickMargin={0}
          tickLine={false}
          axisLine={axisLine}
          tick={bottomTick}
        />
        <XAxis
          xAxisId="t"
          orientation="top"
          dataKey="t"
          type="number"
          domain={[col.t0, t1]}
          ticks={xTicks}
          interval={0}
          allowDataOverflow
          height={0}
          tickSize={0}
          tickMargin={0}
          tickLine={false}
          axisLine={axisLine}
          tick={topTick}
        />
        <YAxis
          yAxisId="l"
          type="number"
          domain={[lo, hi]}
          ticks={yTicks}
          interval={0}
          allowDataOverflow
          width={AXIS_W}
          tickSize={0}
          tickMargin={0}
          tickLine={false}
          axisLine={axisLine}
          tick={leftTick}
        />
        <YAxis
          yAxisId="r"
          orientation="right"
          type="number"
          domain={[lo, hi]}
          ticks={yTicks}
          interval={0}
          allowDataOverflow
          width={0}
          tickSize={0}
          tickMargin={0}
          tickLine={false}
          axisLine={axisLine}
          tick={rightTick}
        />
      </LineChart>
    </div>
  );
}

const centered = (x: number, y: number, size: number, color: string): React.CSSProperties => ({
  position: "absolute",
  left: x,
  top: y,
  transform: "translate(-50%, -50%)",
  fontSize: size,
  color,
  whiteSpace: "nowrap",
  lineHeight: 1,
});

export default function App() {
  return (
    <div
      style={{
        position: "absolute",
        left: 0,
        top: 0,
        width: 1152,
        height: 1276,
        background: "#fff",
        overflow: "hidden",
        fontFamily: "'DejaVu Sans', sans-serif",
      }}
    >
      <div style={centered(305, 28, 32, "#ee3c3c")}>Southward</div>
      <div style={centered(913, 28, 32, "#3957b3")}>Northward</div>
      <div style={{ position: "absolute", left: 589, top: 18, width: 2, height: 1258, background: "#111" }} />

      {columns.map((col) => (
        <React.Fragment key={col.date}>
          <div style={centered(col.titleX, 87, 21, "#111")}>{col.date}</div>
          {col.panels.map((def, i) => (
            <Panel key={def.label + i} col={col} def={def} row={i} />
          ))}
          {col.panels.map((def, i) => (
            <div
              key={"lbl" + i}
              style={{
                ...centered(col.labelX, PLOT_TOP + i * PANEL_H + PANEL_H / 2, 17, "#333"),
                transform: "translate(-50%, -50%) rotate(-90deg)",
              }}
            >
              {def.label}
            </div>
          ))}
          <div style={centered(col.left + col.width / 2, 1259, 15, "#333")}>LT(Hr)</div>
        </React.Fragment>
      ))}
    </div>
  );
}
